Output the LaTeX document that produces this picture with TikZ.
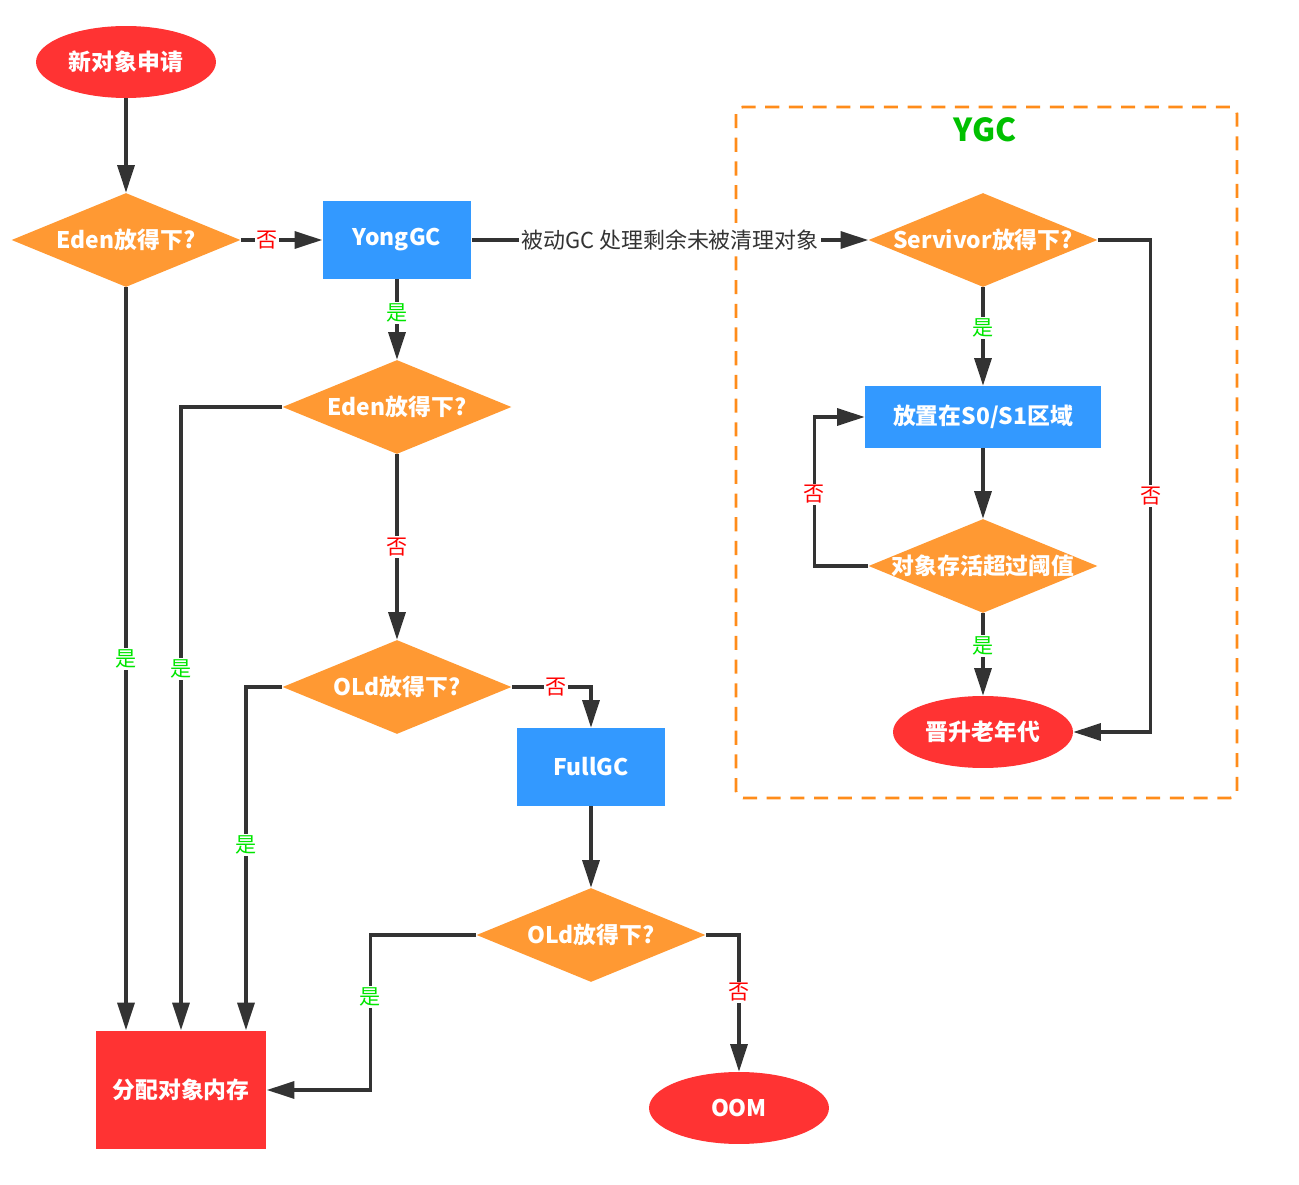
\documentclass[tikz,border=0pt]{standalone}
\usepackage{fontspec}
\setmainfont{Noto Sans CJK SC}
\usepackage{tikz}
\usetikzlibrary{shapes.geometric}
\usetikzlibrary{arrows.meta}
\definecolor{redfill}{HTML}{FF3333}
\definecolor{orangefill}{HTML}{FF9933}
\definecolor{bluefill}{HTML}{3399FF}
\definecolor{linegray}{HTML}{333333}
\definecolor{yesgreen}{HTML}{00E600}
\definecolor{ygcgreen}{HTML}{00C000}
\definecolor{boxorange}{HTML}{FF8C1A}

\begin{document}
\begin{tikzpicture}[
      x=0.02cm, y=-0.02cm,
      every node/.style={font=\bfseries\fontsize{13}{15}\selectfont, text=white},
      terminal/.style={ellipse, fill=redfill, inner sep=0pt, minimum width=3.6cm, minimum height=1.44cm},
      decision/.style={diamond, fill=orangefill, inner sep=0pt, aspect=2.45, minimum width=4.58cm, minimum height=1.88cm},
      process/.style={rectangle, fill=bluefill, inner sep=0pt, minimum width=2.98cm, minimum height=1.56cm},
      flow/.style={draw=linegray, line width=1.8pt, -{Triangle[length=5.5mm, width=3.4mm]}},
      yeslbl/.style={fill=white, inner sep=1pt, text=yesgreen, font=\fontsize{12}{14}\selectfont},
      nolbl/.style={fill=white, inner sep=1pt, text=red, font=\fontsize{12}{14}\selectfont},
      edgetext/.style={fill=white, inner sep=1pt, text=linegray, font=\fontsize{12.5}{14}\selectfont}
   ]
   \useasboundingbox (0,0) rectangle (1299,1185);
   \draw[boxorange, line width=1.6pt, dash pattern=on 8pt off 5.5pt, rounded corners=4pt] (736,107) rectangle (1237,798);
   \node[text=ygcgreen, font=\bfseries\fontsize{18}{20}\selectfont] (ygc) at (985,130) {YGC};

   \node[terminal] (start) at (126,62) {新对象申请};
   \node[decision] (edenA) at (126,240) {Eden放得下?};
   \node[process] (yong) at (397,240) {YongGC};
   \node[decision] (edenB) at (397,407) {Eden放得下?};
   \node[decision] (oldA) at (397,687) {OLd放得下?};
   \node[process] (full) at (591,767) {FullGC};
   \node[decision] (oldB) at (591,935) {OLd放得下?};
   \node[rectangle, fill=redfill, minimum width=3.42cm, minimum height=2.38cm] (alloc) at (181,1090) {分配对象内存};
   \node[terminal] (oom) at (739,1108) {OOM};
   \node[decision] (surv) at (983,240) {\makebox[0pt]{Servivor放得下?}};
   \node[process, minimum width=4.72cm, minimum height=1.24cm] (s01) at (983,417) {放置在S0/S1区域};
   \node[decision] (age) at (983,566) {\makebox[0pt]{对象存活超过阈值}};
   \node[terminal] (promote) at (983,732) {晋升老年代};

   \draw[flow] (start) -- (edenA);
   \draw[flow] (edenA) -- node[nolbl, pos=0.32]{否} (yong);
   \draw[flow] (yong) -- node[yeslbl, pos=0.42]{是} (edenB);
   \draw[flow] (edenB) -- node[nolbl]{否} (oldA);
   \draw[flow] (oldA.east) -| node[nolbl, pos=0.28]{否} (full.north);
   \draw[flow] (full) -- (oldB);
   \draw[flow] (oldB.east) -| node[nolbl, pos=0.71]{否} (oom.north);
   \draw[flow] (oldB.west) -- ++(-106,0) |- node[yeslbl, pos=0.2]{是} (alloc.east);
   \draw[flow] (edenA) -- node[yeslbl]{是} (edenA |- alloc.north);
   \draw[flow] (edenB.west) -| node[yeslbl, pos=0.71]{是} (alloc.north);
   \draw[flow] (oldA.west) -| node[yeslbl, pos=0.73]{是} ([xshift=1.3cm]alloc.north);
   \draw[flow] (yong) -- node[edgetext]{被动GC 处理剩余未被清理对象} (surv);
   \draw[flow] (surv) -- node[yeslbl, pos=0.41]{是} (s01);
   \draw[flow] (s01) -- (age);
   \draw[flow] (age) -- node[yeslbl, pos=0.4]{是} (promote);
   \draw[flow] (age.west) -- ++(-54,0) |- node[nolbl, pos=0.24]{否} (s01.west);
   \draw[flow] (surv.east) -- ++(53,0) |- node[nolbl, pos=0.26]{否} (promote.east);
\end{tikzpicture}
\end{document}
